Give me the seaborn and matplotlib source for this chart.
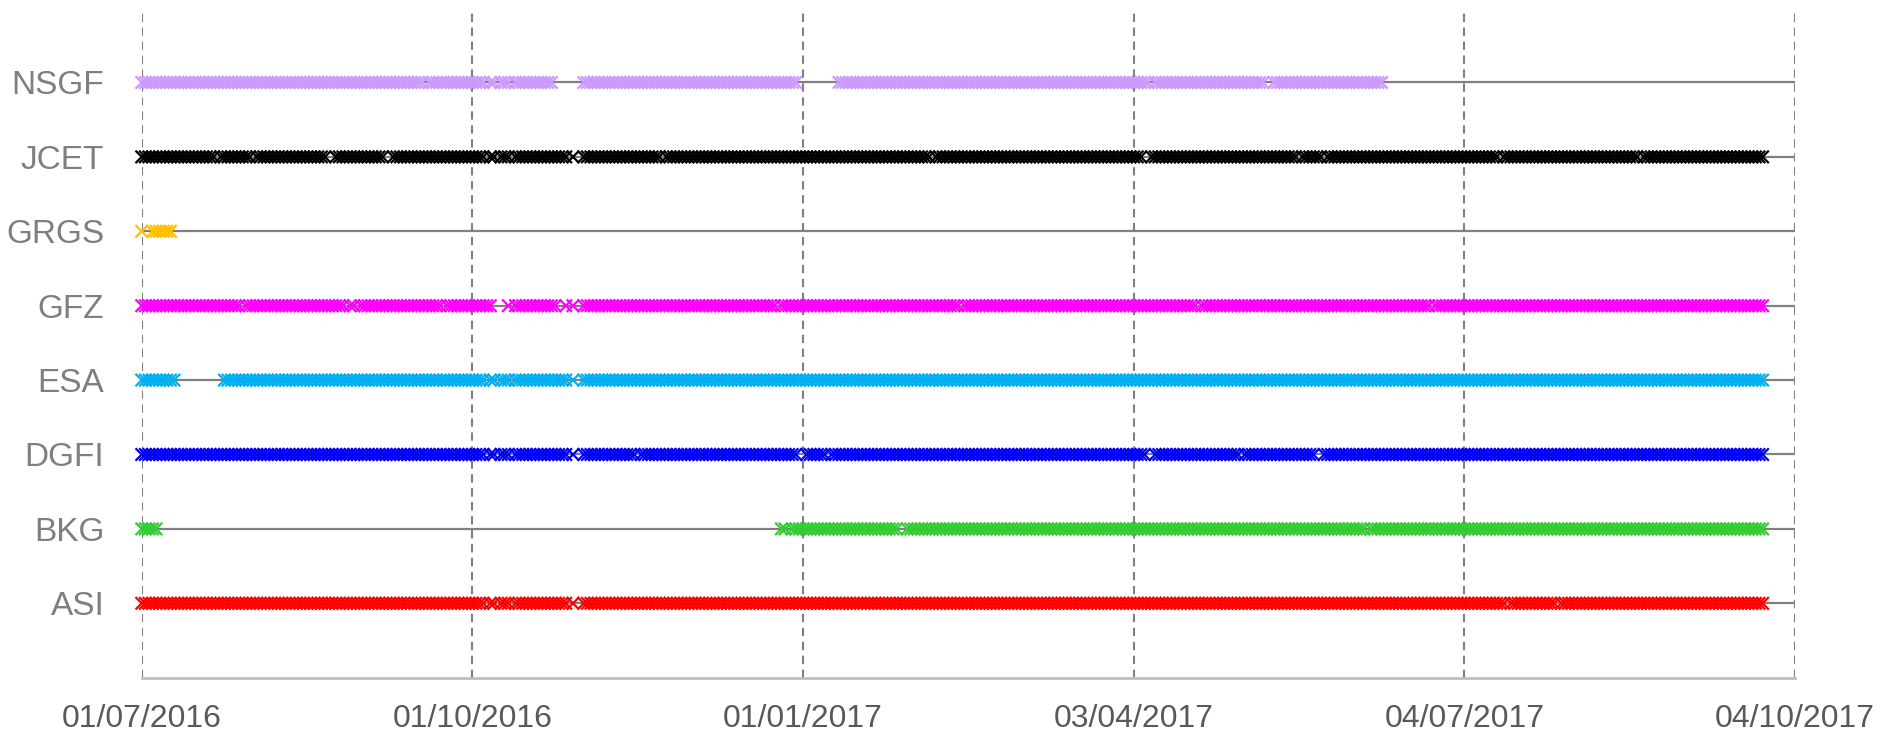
import matplotlib
matplotlib.use("Agg")
import matplotlib.pyplot as plt
import matplotlib.dates as mdates
import pandas as pd
import seaborn as sns

# ---- data -------------------------------------------------------------
series_names = ["ASI", "BKG", "DGFI", "ESA", "GFZ", "GRGS", "JCET", "NSGF"]
series_colors = ["#FF0000", "#33CC33", "#0000FF", "#00B0F0", "#FF00FF",
                 "#FFC000", "#000000", "#CC99FF"]

# daily coverage: ranges of available days and single missing days
asi_ranges = [("2016-07-01", "2017-09-25")]
asi_missing = ["2016-10-05", "2016-10-08", "2016-10-12", "2016-10-28",
               "2016-10-30", "2016-10-31", "2017-07-16", "2017-07-30"]

bkg_ranges = [("2016-07-01", "2016-07-05"), ("2016-12-26", "2017-09-25")]
bkg_missing = ["2016-12-28", "2017-01-28", "2017-01-29", "2017-06-07"]

dgfi_ranges = [("2016-07-01", "2017-09-25")]
dgfi_missing = ["2016-10-05", "2016-10-08", "2016-10-12", "2016-10-28",
                "2016-10-30", "2016-10-31", "2016-11-16", "2016-12-31",
                "2017-01-01", "2017-01-08", "2017-04-07", "2017-04-08",
                "2017-05-03", "2017-05-24", "2017-05-25"]

esa_ranges = [("2016-07-01", "2016-07-10"), ("2016-07-24", "2017-09-25")]
esa_missing = ["2016-10-05", "2016-10-08", "2016-10-12", "2016-10-28",
               "2016-10-30", "2016-10-31"]

gfz_ranges = [("2016-07-01", "2016-10-06"), ("2016-10-11", "2017-09-25")]
gfz_missing = ["2016-07-29", "2016-08-27", "2016-08-30", "2016-09-23",
               "2016-10-12", "2016-10-25", "2016-10-26", "2016-10-28",
               "2016-10-30", "2016-10-31", "2016-12-25", "2017-02-14",
               "2017-04-21", "2017-06-25"]

grgs_ranges = [("2016-07-01", "2016-07-01"), ("2016-07-04", "2016-07-09")]
grgs_missing = []

jcet_ranges = [("2016-07-01", "2017-09-25")]
jcet_missing = ["2016-07-22", "2016-08-01", "2016-08-22", "2016-08-23",
                "2016-09-07", "2016-09-08", "2016-10-05", "2016-10-08",
                "2016-10-12", "2016-10-28", "2016-10-30", "2016-10-31",
                "2016-11-23", "2017-02-06", "2017-04-06", "2017-04-07",
                "2017-05-19", "2017-05-26", "2017-07-14", "2017-08-22"]

nsgf_ranges = [("2016-07-01", "2016-10-23"), ("2016-11-01", "2016-12-30"),
               ("2017-01-11", "2017-06-11")]
nsgf_missing = ["2016-09-18", "2016-10-05", "2016-10-08", "2016-10-12",
                "2017-04-08", "2017-05-10", "2017-05-11"]

all_ranges = [asi_ranges, bkg_ranges, dgfi_ranges, esa_ranges, gfz_ranges,
              grgs_ranges, jcet_ranges, nsgf_ranges]
all_missing = [asi_missing, bkg_missing, dgfi_missing, esa_missing,
               gfz_missing, grgs_missing, jcet_missing, nsgf_missing]

x_start = "2016-07-01"
x_end = "2017-10-04"
tick_dates = ["2016-07-01", "2016-10-01", "2017-01-01", "2017-04-03",
              "2017-07-04", "2017-10-04"]

# ---- build table --------------------------------------------------------
rows = []
for i, (name, rngs, miss) in enumerate(zip(series_names, all_ranges, all_missing)):
    miss_set = set(pd.to_datetime(miss))
    for a, b in rngs:
        for d in pd.date_range(a, b, freq="D"):
            if d not in miss_set:
                rows.append({"date": d, "series": name, "y": i + 1})
df = pd.DataFrame(rows)

# ---- plot ---------------------------------------------------------------
sns.set_style("white")
plt.rcParams["font.family"] = ["Liberation Sans", "DejaVu Sans"]

fig = plt.figure(figsize=(18.97, 7.34), dpi=100)
ax = fig.add_axes([0.0747, 0.0767, 0.8715, 0.9123])

x0 = pd.Timestamp(x_start)
x1 = pd.Timestamp(x_end)
for i, name in enumerate(series_names):
    ax.plot([x0, x1], [i + 1, i + 1], color="#808080", lw=1.6, zorder=1,
            solid_capstyle="butt")

sns.scatterplot(data=df, x="date", y="y", hue="series",
                hue_order=series_names,
                palette=dict(zip(series_names, series_colors)),
                marker="x", s=80, linewidth=1.6, legend=False, ax=ax,
                zorder=3, clip_on=False)

ax.set_xlim(x0, x1)
ax.set_ylim(0, 9)
ax.set_xticks(pd.to_datetime(tick_dates))
ax.xaxis.set_major_formatter(mdates.DateFormatter("%d/%m/%Y"))
ax.set_yticks(range(1, len(series_names) + 1))
ax.set_yticklabels(series_names, fontsize=24, color="#7F7F7F")
ax.set_xlabel("")
ax.set_ylabel("")

ax.grid(axis="x", color="#808080", linestyle=(0, (4, 2.7)), linewidth=1.5)
ax.grid(axis="y", visible=False)
ax.set_axisbelow(True)

for s in ["top", "left", "right"]:
    ax.spines[s].set_visible(False)
ax.spines["bottom"].set_color("#BFBFBF")
ax.spines["bottom"].set_linewidth(2)

ax.tick_params(axis="x", length=0, pad=19, labelsize=23, labelcolor="#595959")
ax.tick_params(axis="y", length=0, pad=27)

fig.savefig("out.png", dpi=100)
